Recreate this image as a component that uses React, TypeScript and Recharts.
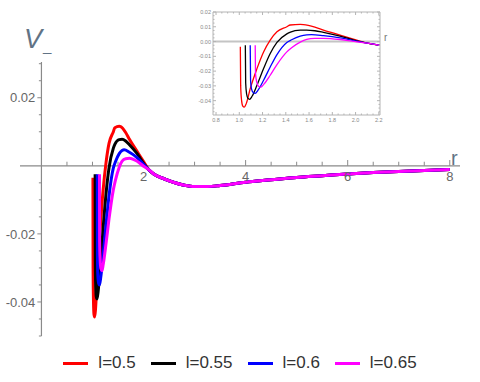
import React from "react";
import { LineChart, Line, XAxis, YAxis, ReferenceLine } from "recharts";

// V_ versus r for four values of l
const redR = [1.009, 1.012, 1.02, 1.03, 1.043, 1.06, 1.094, 1.152, 1.209, 1.266, 1.324, 1.409, 1.438, 1.524, 1.552, 1.65, 1.724, 1.867, 2.01];
const redV = [-0.0035, -0.03, -0.04, -0.0437, -0.0444, -0.042, -0.0319, -0.0183, -0.007, 0.001, 0.0066, 0.01, 0.0112, 0.0116, 0.0115, 0.0098, 0.0078, 0.0044, 0.001];

const blackR = [1.052, 1.055, 1.063, 1.075, 1.088, 1.11, 1.152, 1.209, 1.266, 1.324, 1.409, 1.44, 1.524, 1.58, 1.65, 1.724, 1.867, 2.01];
const blackV = [-0.0025, -0.028, -0.0355, -0.0385, -0.0391, -0.037, -0.0296, -0.0183, -0.0081, -0.0006, 0.0052, 0.0064, 0.0077, 0.0078, 0.0073, 0.0062, 0.0037, 0.0005];

const blueR = [1.094, 1.097, 1.105, 1.12, 1.137, 1.16, 1.209, 1.266, 1.324, 1.409, 1.45, 1.524, 1.58, 1.62, 1.724, 1.867, 2.01];
const blueV = [-0.0025, -0.026, -0.032, -0.0345, -0.035, -0.033, -0.0262, -0.0172, -0.0088, -0.0006, 0.0012, 0.0036, 0.0045, 0.0047, 0.004, 0.0025, 0.0003];

const magentaR = [1.137, 1.14, 1.15, 1.165, 1.186, 1.21, 1.266, 1.324, 1.409, 1.45, 1.524, 1.58, 1.65, 1.724, 1.867, 2.01];
const magentaV = [-0.0025, -0.022, -0.0275, -0.0302, -0.0308, -0.029, -0.0228, -0.0156, -0.007, -0.0042, -0.0004, 0.0014, 0.0021, 0.0022, 0.0014, -0.0002];

// all four curves coincide past r ~ 2
const tailR = [2.1, 2.2, 2.4, 2.6, 2.8, 3.0, 3.25, 3.5, 4, 4.5, 5, 5.5, 6, 6.5, 7, 7.5, 8];
const tailV = [-0.0011, -0.0024, -0.0038, -0.0049, -0.0057, -0.0061, -0.0061, -0.0058, -0.0048, -0.0041, -0.0034, -0.0029, -0.0024, -0.002, -0.0017, -0.0014, -0.0011];

// main axes ticks
const xMajor = [2, 4, 6, 8];
const xLabels = ["2", "4", "6", "8"];
const yMajor = [0.02, -0.02, -0.04];
const yLabels = ["0.02", "-0.02", "-0.04"];

// inset ticks
const insetXMajor = [0.8, 1.0, 1.2, 1.4, 1.6, 1.8, 2.0, 2.2];
const insetXLabels = ["0.8", "1.0", "1.2", "1.4", "1.6", "1.8", "2.0", "2.2"];
const insetYMajor = [0.02, 0.01, 0, -0.01, -0.02, -0.03, -0.04, -0.05];
const insetYLabels = ["0.02", "0.01", "0.00", "-0.01", "-0.02", "-0.03", "-0.04", "-0.05"];

const build = (rs: number[], vs: number[]) =>
  rs.map((r, i) => ({ r, v: vs[i] })).concat(tailR.map((r, i) => ({ r, v: tailV[i] })));

const series = [
  { name: "l=0.5", color: "#ff0000", data: build(redR, redV) },
  { name: "l=0.55", color: "#000000", data: build(blackR, blackV) },
  { name: "l=0.6", color: "#0000ff", data: build(blueR, blueV) },
  { name: "l=0.65", color: "#ff00ff", data: build(magentaR, magentaV) },
];

const steps = (from: number, to: number, step: number) => {
  const out: number[] = [];
  for (let i = 0; from + i * step <= to + 1e-9; i++) out.push(+(from + i * step).toFixed(5));
  return out;
};
const isIn = (list: number[], v: number) => list.some((m) => Math.abs(m - v) < 1e-7);

const xMinor = steps(0.5, 8, 0.5).filter((v) => !isIn(xMajor, v));
const yMinor = steps(-0.05, 0.03, 0.005).filter((v) => !isIn(yMajor, v) && Math.abs(v) > 1e-7);
const insetXTicks = steps(0.8, 2.2, 0.05);
const insetYTicks = steps(-0.0475, 0.02, 0.0025);

const FONT = "'Liberation Sans', Arial, sans-serif";
const AXIS = "#8a8a8a";
const FRAME = "#b4b4b4";

const insetTick = (side: string) => (props: any) => {
  const { x, y, payload } = props;
  const v = payload.value;
  const majors = side === "bottom" || side === "top" ? insetXMajor : insetYMajor;
  const k = majors.findIndex((m) => Math.abs(m - v) < 1e-7);
  const len = k >= 0 ? 3 : 1.5;
  if (side === "bottom")
    return (
      <g>
        <line x1={x} y1={y} x2={x} y2={y - len} stroke={FRAME} />
        {k >= 0 && (
          <text x={x} y={y + 6.5} textAnchor="middle" fontSize={5.5} fill="#888" fontFamily={FONT}>
            {insetXLabels[k]}
          </text>
        )}
      </g>
    );
  if (side === "top") return <line x1={x} y1={y} x2={x} y2={y + len} stroke={FRAME} />;
  if (side === "left")
    return (
      <g>
        <line x1={x} y1={y} x2={x + len} y2={y} stroke={FRAME} />
        {k >= 0 && (
          <text x={x - 2} y={y + 2} textAnchor="end" fontSize={5.5} fill="#888" fontFamily={FONT}>
            {insetYLabels[k]}
          </text>
        )}
      </g>
    );
  return <line x1={x} y1={y} x2={x - len} y2={y} stroke={FRAME} />;
};

export default function App() {
  return (
    <div style={{ position: "absolute", left: 0, top: 0, width: 480, height: 382, background: "#fff", fontFamily: FONT }}>
      <div style={{ position: "absolute", left: 0, top: 0 }}>
        <LineChart width={480} height={345} margin={{ top: 62, right: 20, bottom: 9, left: 20 }}>
          <XAxis dataKey="r" type="number" domain={[-0.42, 8.2]} allowDataOverflow hide />
          <YAxis type="number" domain={[-0.05, 0.0305]} allowDataOverflow hide />
          <ReferenceLine y={0} stroke={AXIS} strokeWidth={1.2} />
          <ReferenceLine segment={[{ x: 0, y: -0.05 }, { x: 0, y: 0.0305 }]} stroke={AXIS} strokeWidth={1.2} />
          {xMinor.map((v) => (
            <ReferenceLine key={"xm" + v} segment={[{ x: v, y: 0 }, { x: v, y: 0.0012 }]} stroke={AXIS} />
          ))}
          {xMajor.map((v, i) => (
            <ReferenceLine
              key={"xM" + v}
              segment={[{ x: v, y: 0 }, { x: v, y: 0.0017 }]}
              stroke={AXIS}
              label={{ value: xLabels[i], position: "bottom", offset: 6, fill: "#666", fontSize: 13, fontFamily: FONT }}
            />
          ))}
          {yMinor.map((v) => (
            <ReferenceLine key={"ym" + v} segment={[{ x: 0, y: v }, { x: -0.05, y: v }]} stroke={AXIS} />
          ))}
          {yMajor.map((v, i) => (
            <ReferenceLine
              key={"yM" + v}
              segment={[{ x: 0, y: v }, { x: -0.08, y: v }]}
              stroke={AXIS}
              label={{ value: yLabels[i], position: "left", offset: 2, fill: "#666", fontSize: 13, fontFamily: FONT }}
            />
          ))}
          {series.map((s) => (
            <Line
              key={s.name}
              data={s.data}
              dataKey="v"
              type="monotone"
              stroke={s.color}
              strokeWidth={3}
              dot={false}
              isAnimationActive={false}
            />
          ))}
        </LineChart>
      </div>

      <div style={{ position: "absolute", left: 190, top: 0 }}>
        <LineChart width={210} height={125} margin={{ top: 11, right: 19, bottom: 9, left: 22 }} style={{ overflow: "visible" }}>
          <XAxis
            xAxisId="b"
            dataKey="r"
            type="number"
            domain={[0.774, 2.21]}
            allowDataOverflow
            ticks={insetXTicks}
            interval={0}
            tick={insetTick("bottom")}
            tickLine={false}
            tickSize={0}
            tickMargin={0}
            height={1}
            axisLine={{ stroke: FRAME }}
          />
          <XAxis
            xAxisId="t"
            orientation="top"
            dataKey="r"
            type="number"
            domain={[0.774, 2.21]}
            allowDataOverflow
            ticks={insetXTicks}
            interval={0}
            tick={insetTick("top")}
            tickLine={false}
            tickSize={0}
            tickMargin={0}
            height={1}
            axisLine={{ stroke: FRAME }}
          />
          <YAxis
            yAxisId="l"
            type="number"
            domain={[-0.0497, 0.02]}
            allowDataOverflow
            ticks={insetYTicks}
            interval={0}
            tick={insetTick("left")}
            tickLine={false}
            tickSize={0}
            tickMargin={0}
            width={1}
            axisLine={{ stroke: FRAME }}
          />
          <YAxis
            yAxisId="r"
            orientation="right"
            type="number"
            domain={[-0.0497, 0.02]}
            allowDataOverflow
            ticks={insetYTicks}
            interval={0}
            tick={insetTick("right")}
            tickLine={false}
            tickSize={0}
            tickMargin={0}
            width={1}
            axisLine={{ stroke: FRAME }}
          />
          <ReferenceLine xAxisId="b" yAxisId="l" y={0} stroke="#c4c4c4" strokeWidth={2} />
          {series.map((s) => (
            <Line
              key={s.name}
              xAxisId="b"
              yAxisId="l"
              data={s.data}
              dataKey="v"
              type="monotone"
              stroke={s.color}
              strokeWidth={1.3}
              dot={false}
              isAnimationActive={false}
            />
          ))}
        </LineChart>
      </div>

      <div style={{ position: "absolute", left: 384, top: 32, fontSize: 10, color: "#777" }}>r</div>

      <div style={{ position: "absolute", left: 24, top: 26, fontSize: 27, fontStyle: "italic", color: "#617385", lineHeight: 1 }}>V</div>
      <div style={{ position: "absolute", left: 43, top: 38, fontSize: 15, color: "#617385", lineHeight: 1 }}>_</div>
      <div style={{ position: "absolute", left: 451, top: 148, fontSize: 20, color: "#617385", lineHeight: 1 }}>r</div>

      <div
        style={{
          position: "absolute",
          left: 0,
          top: 353,
          width: 480,
          display: "flex",
          justifyContent: "center",
          gap: 15,
          fontSize: 17,
          color: "#333",
          lineHeight: "20px",
        }}
      >
        {series.map((s) => (
          <div key={s.name} style={{ display: "flex", alignItems: "center" }}>
            <div style={{ width: 25, height: 3, background: s.color, marginRight: 10 }} />
            <span>{s.name}</span>
          </div>
        ))}
      </div>
    </div>
  );
}
